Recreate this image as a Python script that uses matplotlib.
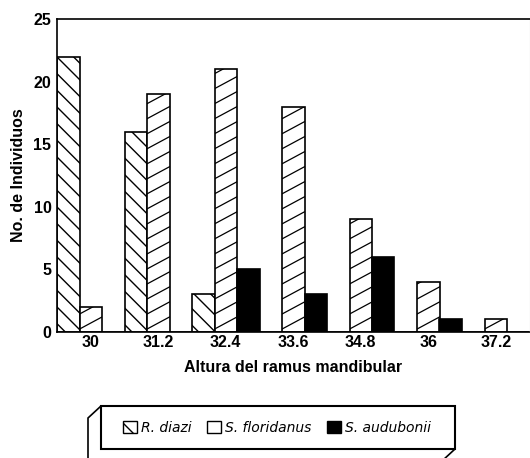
import numpy as np
import matplotlib
matplotlib.use("Agg")
import matplotlib.pyplot as plt
from matplotlib.patches import Rectangle, Polygon
from matplotlib.lines import Line2D

plt.rcParams['font.family'] = ['Liberation Sans', 'DejaVu Sans']
plt.rcParams['hatch.linewidth'] = 1.0

# Altura del ramus mandibular (clases) y numero de individuos por especie
clases = ["30", "31.2", "32.4", "33.6", "34.8", "36", "37.2"]
r_diazi = [22, 16, 3, 0, 0, 0, 0]
s_floridanus = [2, 19, 21, 18, 9, 4, 1]
s_audubonii = [0, 0, 5, 3, 6, 1, 0]

W, H = 530, 458
fig = plt.figure(figsize=(W / 100, H / 100), dpi=100)
ax = fig.add_axes([57 / W, 1 - 332 / H, 472.5 / W, 313 / H])

x = np.arange(len(clases))
bw = 1 / 3
b1 = ax.bar(x - bw, r_diazi, bw, facecolor="white", edgecolor="black",
            linewidth=1.2, hatch="\\\\")
b2 = ax.bar(x, s_floridanus, bw, facecolor="white", edgecolor="black",
            linewidth=1.2)
b3 = ax.bar(x + bw, s_audubonii, bw, facecolor="black", edgecolor="black",
            linewidth=1.2)

# shallow diagonal hatching for S. floridanus, clipped to each bar
slope = 2.9      # data units of y per unit of x
step = 1.2
for p in b2.patches:
    x0, w, h = p.get_x(), p.get_width(), p.get_height()
    if h <= 0:
        continue
    for y0 in np.arange(-slope * w, h + step, step):
        ln = Line2D([x0, x0 + w], [y0, y0 + slope * w], color="black",
                    linewidth=0.9)
        ax.add_line(ln)
        ln.set_clip_path(p)

ax.set_xlim(-0.5, len(clases) - 0.5)
ax.set_ylim(0, 25)
ax.set_yticks([0, 5, 10, 15, 20, 25])
ax.set_xticks(x)
ax.set_xticklabels(clases)
ax.tick_params(axis="both", length=0, labelsize=11.5)
ax.tick_params(axis="x", pad=2)
ax.tick_params(axis="y", pad=4)
for lab in ax.get_xticklabels() + ax.get_yticklabels():
    lab.set_fontweight("bold")
for s in ["left", "top", "bottom"]:
    ax.spines[s].set_linewidth(1.2)
ax.spines["right"].set_color("#bbbbbb")
ax.set_ylabel("No. de Individuos", fontsize=11.5, fontweight="bold",
              labelpad=5)
ax.set_xlabel("Altura del ramus mandibular", fontsize=11.5, fontweight="bold",
              labelpad=7)


def px(xp, yp):
    return (xp / W, 1 - yp / H)


# legend box drawn as a slab
front = [px(101, 406), px(455, 406), px(455, 449), px(101, 449)]
back = [px(88, 418), px(101, 406), px(101, 449), px(455, 449),
        px(442, 461), px(88, 461)]
fig.patches.append(Polygon(back, closed=True, transform=fig.transFigure,
                           facecolor="white", edgecolor="black", linewidth=1.2))
fig.patches.append(Polygon(front, closed=True, transform=fig.transFigure,
                           facecolor="white", edgecolor="black", linewidth=1.5))

handles = [Rectangle((0, 0), 1, 1, facecolor="white", edgecolor="black",
                     hatch="\\\\", linewidth=1.0),
           Rectangle((0, 0), 1, 1, facecolor="white", edgecolor="black",
                     linewidth=1.0),
           Rectangle((0, 0), 1, 1, facecolor="black", edgecolor="black")]
fig.legend(handles, ["R. diazi", "S. floridanus", "S. audubonii"],
           loc="center", bbox_to_anchor=px(277, 427.5), ncol=3,
           frameon=False, handlelength=1.0, handleheight=1.0,
           handletextpad=0.3, columnspacing=1.1,
           prop={"family": "DejaVu Sans", "size": 10, "style": "italic",
                 "weight": "light"})

fig.savefig("out.png", dpi=100, facecolor="white")
